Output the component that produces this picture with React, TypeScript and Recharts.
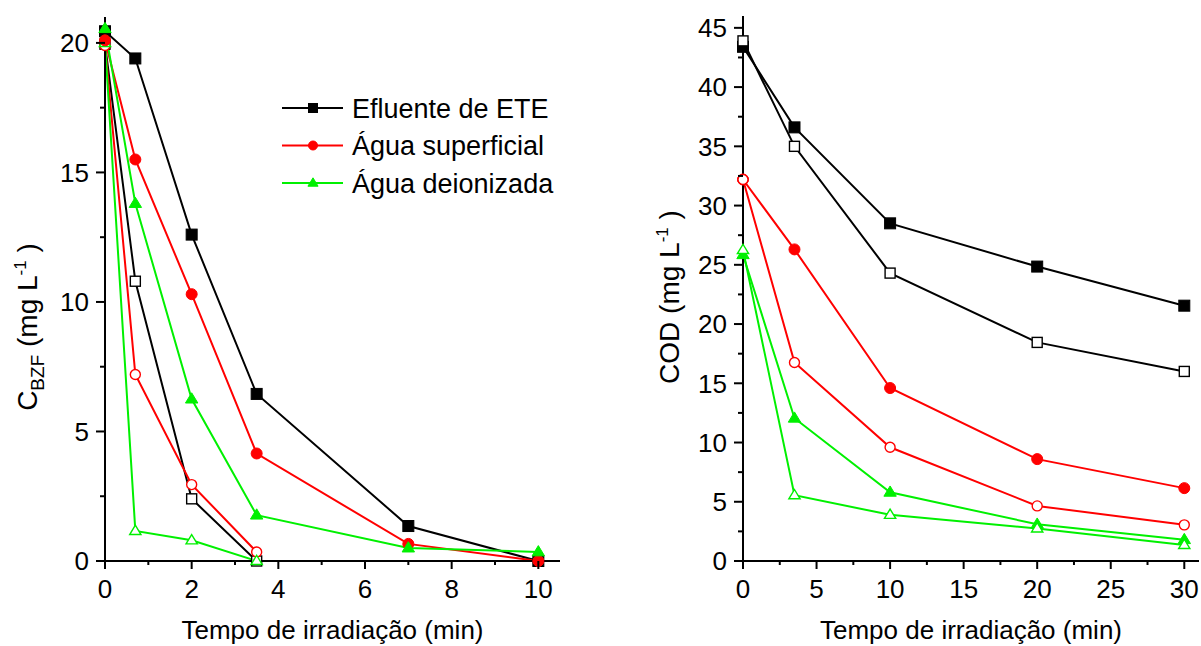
import React from 'react';
import { LineChart, Line, XAxis, YAxis, Legend, Label } from 'recharts';

const FONT = '"Liberation Sans", Arial, Helvetica, sans-serif';
const BLACK = '#000000';
const RED = '#ff0000';
const GREEN = '#00f000';

// Painel A: concentração de BZF (mg/L) vs tempo (min)
const timeA = [0, 0.7, 2, 3.5, 7, 10];
const timeAShort = [0, 0.7, 2, 3.5];
const eteA = [20.45, 19.4, 12.6, 6.45, 1.35, 0];
const eteAOpen = [19.95, 10.8, 2.4, 0];
const superficialA = [20.1, 15.5, 10.3, 4.15, 0.66, 0];
const superficialAOpen = [19.9, 7.2, 2.95, 0.35];
const deionizadaA = [20.55, 13.8, 6.25, 1.77, 0.5, 0.35];
const deionizadaAOpen = [20.0, 1.16, 0.8, 0];

// Painel B: COD (mg/L) vs tempo (min)
const timeB = [0, 3.5, 10, 20, 30];
const eteB = [43.4, 36.6, 28.5, 24.85, 21.55];
const eteBOpen = [43.9, 35.0, 24.3, 18.45, 16.0];
const superficialB = [32.2, 26.3, 14.6, 8.6, 6.15];
const superficialBOpen = [32.2, 16.75, 9.6, 4.65, 3.05];
const deionizadaB = [25.85, 12.05, 5.8, 3.1, 1.8];
const deionizadaBOpen = [26.25, 5.55, 3.9, 2.75, 1.35];

// eixos
const xTicksA = [0, 1, 2, 3, 4, 5, 6, 7, 8, 9, 10];
const xMajorA = [0, 2, 4, 6, 8, 10];
const yTicksA = [0, 2.5, 5, 7.5, 10, 12.5, 15, 17.5, 20];
const yMajorA = [0, 5, 10, 15, 20];
const xTicksB = [0, 2.5, 5, 7.5, 10, 12.5, 15, 17.5, 20, 22.5, 25, 27.5, 30];
const xMajorB = [0, 5, 10, 15, 20, 25, 30];
const yTicksB = [0, 2.5, 5, 7.5, 10, 12.5, 15, 17.5, 20, 22.5, 25, 27.5, 30, 32.5, 35, 37.5, 40, 42.5, 45];
const yMajorB = [0, 5, 10, 15, 20, 25, 30, 35, 40, 45];

const legendNames = ['Efluente de ETE', 'Água superficial', 'Água deionizada'];

type Shape = 'square' | 'circle' | 'triangle';

interface Series {
  name: string;
  t: number[];
  v: number[];
  color: string;
  shape: Shape;
  filled: boolean;
}

const toRows = (t: number[], v: number[]) => t.map((x, i) => ({ t: x, v: v[i] }));

const legendShapes: Record<string, Shape> = {
  'Efluente de ETE': 'square',
  'Água superficial': 'circle',
  'Água deionizada': 'triangle',
};

const seriesA: Series[] = [
  { name: 'ETE aberto', t: timeAShort, v: eteAOpen, color: BLACK, shape: 'square', filled: false },
  { name: 'Superficial aberto', t: timeAShort, v: superficialAOpen, color: RED, shape: 'circle', filled: false },
  { name: 'Deionizada aberto', t: timeAShort, v: deionizadaAOpen, color: GREEN, shape: 'triangle', filled: false },
  { name: 'Efluente de ETE', t: timeA, v: eteA, color: BLACK, shape: 'square', filled: true },
  { name: 'Água superficial', t: timeA, v: superficialA, color: RED, shape: 'circle', filled: true },
  { name: 'Água deionizada', t: timeA, v: deionizadaA, color: GREEN, shape: 'triangle', filled: true },
];

const seriesB: Series[] = [
  { name: 'Efluente de ETE', t: timeB, v: eteB, color: BLACK, shape: 'square', filled: true },
  { name: 'Água superficial', t: timeB, v: superficialB, color: RED, shape: 'circle', filled: true },
  { name: 'Água deionizada', t: timeB, v: deionizadaB, color: GREEN, shape: 'triangle', filled: true },
  { name: 'ETE aberto', t: timeB, v: eteBOpen, color: BLACK, shape: 'square', filled: false },
  { name: 'Superficial aberto', t: timeB, v: superficialBOpen, color: RED, shape: 'circle', filled: false },
  { name: 'Deionizada aberto', t: timeB, v: deionizadaBOpen, color: GREEN, shape: 'triangle', filled: false },
];

function Marker({ cx, cy, shape, color, filled, size }: any) {
  const fill = filled ? color : '#ffffff';
  const sw = filled ? 1 : 1.4;
  const h = size / 2;
  if (shape === 'square') {
    return <rect x={cx - h} y={cy - h} width={size} height={size} fill={fill} stroke={color} strokeWidth={sw} />;
  }
  if (shape === 'circle') {
    return <circle cx={cx} cy={cy} r={h} fill={fill} stroke={color} strokeWidth={sw} />;
  }
  const r = h * 1.15;
  const pts = `${cx},${cy - r} ${cx + r * 0.98},${cy + r * 0.62} ${cx - r * 0.98},${cy + r * 0.62}`;
  return <polygon points={pts} fill={fill} stroke={color} strokeWidth={sw} strokeLinejoin="miter" />;
}

const makeDot = (s: Series) => (props: any) => {
  const { cx, cy, index } = props;
  if (cx == null || cy == null) return <g key={`${s.name}-${index}`} />;
  return (
    <g key={`${s.name}-${index}`}>
      <Marker cx={cx} cy={cy} shape={s.shape} color={s.color} filled={s.filled} size={s.filled ? 11 : 10} />
    </g>
  );
};

const YTick = ({ x, y, payload, majors }: any) => {
  const major = majors.includes(payload.value);
  return (
    <g>
      <line x1={x} x2={x - (major ? 9 : 5)} y1={y} y2={y} stroke={BLACK} strokeWidth={2} />
      {major && (
        <text x={x - 16} y={y} dy="0.36em" textAnchor="end" fontSize={26} fontFamily={FONT} fill={BLACK}>
          {payload.value}
        </text>
      )}
    </g>
  );
};

const XTick = ({ x, y, payload, majors }: any) => {
  const major = majors.includes(payload.value);
  return (
    <g>
      <line x1={x} x2={x} y1={y} y2={y + (major ? 8 : 4)} stroke={BLACK} strokeWidth={2} />
      {major && (
        <text x={x} y={y + 37} textAnchor="middle" fontSize={26} fontFamily={FONT} fill={BLACK}>
          {payload.value}
        </text>
      )}
    </g>
  );
};

// only the filled series go in the legend, in a fixed order
const LegendBox = ({ payload }: any) => {
  const entries = legendNames
    .map((n) => (payload || []).find((e: any) => e.value === n))
    .filter(Boolean);
  return (
    <svg width={290} height={120} style={{ display: 'block' }}>
      {entries.map((entry: any, i: number) => {
        const cy = 19 + i * 37.5;
        return (
          <g key={entry.value}>
            <line x1={4} x2={65} y1={cy} y2={cy} stroke={entry.color} strokeWidth={2} />
            <Marker cx={35} cy={cy} shape={legendShapes[entry.value]} color={entry.color} filled size={9} />
            <text x={74} y={cy} dy="0.36em" fontSize={27} fontFamily={FONT} fill={BLACK}>
              {entry.value}
            </text>
          </g>
        );
      })}
    </svg>
  );
};

const XTitle = ({ viewBox }: any) => (
  <text
    x={viewBox.x + viewBox.width / 2}
    y={639}
    textAnchor="middle"
    fontSize={26}
    fontFamily={FONT}
    fill={BLACK}
  >
    Tempo de irradiação (min)
  </text>
);

const PanelLetter = ({ viewBox, letter, dx, dy }: any) => (
  <text
    x={viewBox.x + viewBox.width - dx}
    y={viewBox.y + dy}
    textAnchor="end"
    fontSize={31}
    fontWeight="bold"
    fontFamily={FONT}
    fill={BLACK}
  >
    {letter}
  </text>
);

function renderLines(series: Series[]) {
  return series.map((s) => (
    <Line
      key={s.name}
      data={toRows(s.t, s.v)}
      dataKey="v"
      name={s.name}
      type="linear"
      stroke={s.color}
      strokeWidth={2}
      dot={makeDot(s)}
      activeDot={false}
      legendType={s.filled ? 'line' : 'none'}
      isAnimationActive={false}
    />
  ));
}

const frameLine = { stroke: BLACK, strokeWidth: 2 };

function PanelA() {
  return (
    <LineChart width={600} height={646} margin={{ top: 17, right: 40, bottom: 0, left: 0 }}>
      <XAxis
        dataKey="t"
        type="number"
        domain={[0, 10.5]}
        ticks={xTicksA}
        interval={0}
        tickSize={0}
        tickMargin={0}
        tickLine={false}
        axisLine={frameLine}
        tick={(p: any) => <XTick {...p} majors={xMajorA} />}
        height={85}
      >
        <Label content={<XTitle />} />
      </XAxis>
      <XAxis xAxisId="top" orientation="top" type="number" domain={[0, 10.5]} height={0} tick={false} tickLine={false} axisLine={frameLine}>
        <Label content={<PanelLetter letter="A" dx={7} dy={42} />} />
      </XAxis>
      <YAxis
        type="number"
        domain={[0, 21]}
        ticks={yTicksA}
        interval={0}
        tickSize={0}
        tickMargin={0}
        tickLine={false}
        axisLine={frameLine}
        tick={(p: any) => <YTick {...p} majors={yMajorA} />}
        width={105}
      >
        <Label
          content={() => (
            <text transform="translate(37, 327) rotate(-90)" textAnchor="middle" fontSize={28} fontFamily={FONT} fill={BLACK}>
              C<tspan fontSize={19} dy={7}>BZF</tspan>
              <tspan dy={-7}> (mg L</tspan>
              <tspan fontSize={17} dy={-11}>-1</tspan>
              <tspan dy={11}> )</tspan>
            </text>
          )}
        />
      </YAxis>
      <YAxis yAxisId="right" orientation="right" type="number" domain={[0, 21]} width={0} tick={false} tickLine={false} axisLine={frameLine} />
      {renderLines(seriesA)}
      <Legend
        layout="vertical"
        align="center"
        verticalAlign="middle"
        content={<LegendBox />}
        wrapperStyle={{ position: 'absolute', left: 278, top: 89, width: 290, height: 120 }}
      />
    </LineChart>
  );
}

function PanelB() {
  return (
    <LineChart width={581} height={646} margin={{ top: 16, right: 2, bottom: 0, left: 0 }}>
      <XAxis
        dataKey="t"
        type="number"
        domain={[0, 31]}
        ticks={xTicksB}
        interval={0}
        tickSize={0}
        tickMargin={0}
        tickLine={false}
        axisLine={frameLine}
        tick={(p: any) => <XTick {...p} majors={xMajorB} />}
        height={85}
      >
        <Label content={<XTitle />} />
      </XAxis>
      <XAxis xAxisId="top" orientation="top" type="number" domain={[0, 31]} height={0} tick={false} tickLine={false} axisLine={frameLine}>
        <Label content={<PanelLetter letter="B" dx={6} dy={31} />} />
      </XAxis>
      <YAxis
        type="number"
        domain={[0, 46]}
        ticks={yTicksB}
        interval={0}
        tickSize={0}
        tickMargin={0}
        tickLine={false}
        axisLine={frameLine}
        tick={(p: any) => <YTick {...p} majors={yMajorB} />}
        width={123}
      >
        <Label
          content={() => (
            <text transform="translate(59, 297) rotate(-90)" textAnchor="middle" fontSize={28} fontFamily={FONT} fill={BLACK}>
              COD (mg L<tspan fontSize={17} dy={-11}>-1</tspan>
              <tspan dy={11}> )</tspan>
            </text>
          )}
        />
      </YAxis>
      <YAxis yAxisId="right" orientation="right" type="number" domain={[0, 46]} width={0} tick={false} tickLine={false} axisLine={frameLine} />
      {renderLines(seriesB)}
    </LineChart>
  );
}

export default function App() {
  return (
    <div style={{ position: 'absolute', left: 0, top: 0, width: 1201, height: 646, background: '#ffffff' }}>
      <div style={{ position: 'absolute', left: 0, top: 0 }}>
        <PanelA />
      </div>
      <div style={{ position: 'absolute', left: 620, top: 0 }}>
        <PanelB />
      </div>
    </div>
  );
}
